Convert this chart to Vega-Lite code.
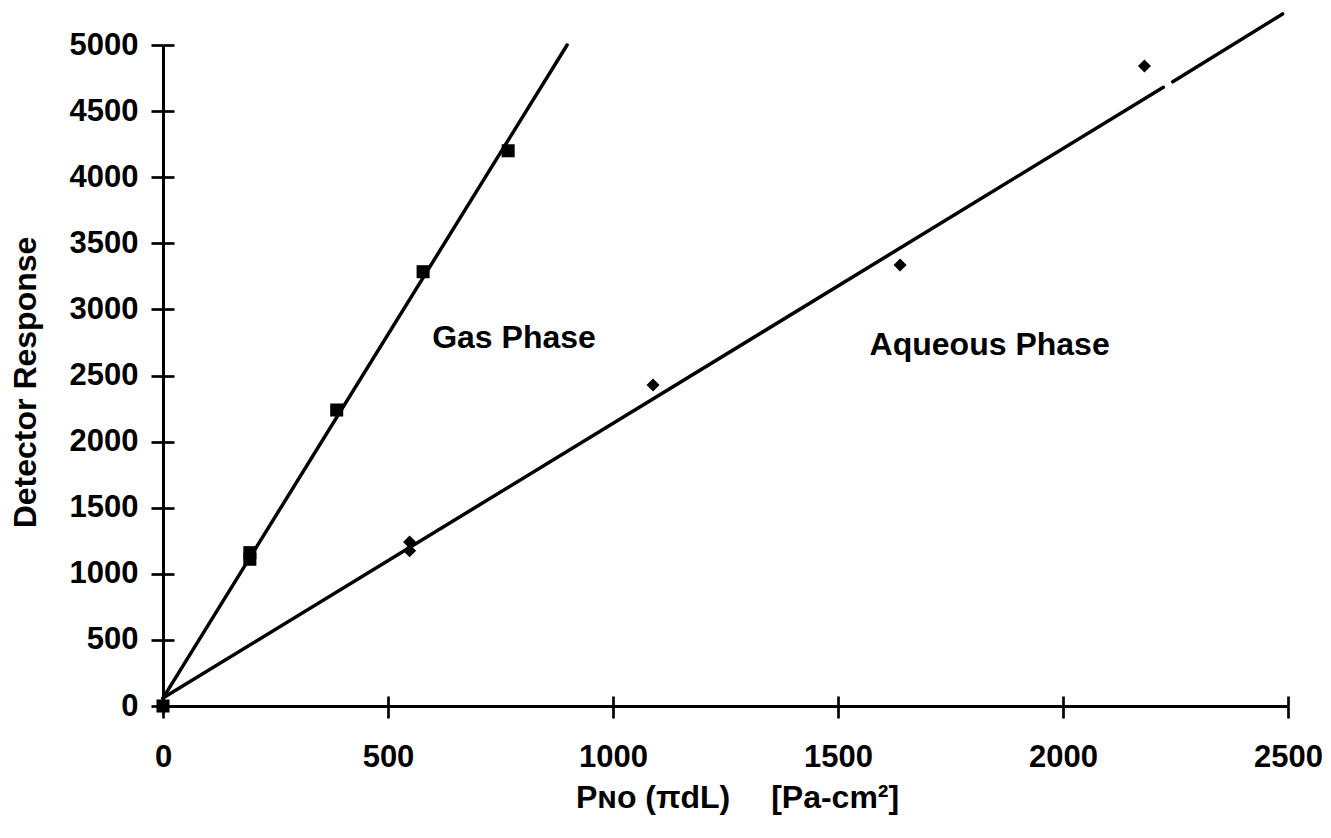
{
  "$schema": "https://vega.github.io/schema/vega-lite/v6.json",
  "width": 1125,
  "height": 661,
  "autosize": {"type": "none"},
  "padding": {"left": 163, "top": 45, "right": 43, "bottom": 132},
  "background": "white",
  "config": {
    "view": {"stroke": null},
    "font": "Liberation Sans",
    "axis": {
      "grid": false,
      "domainColor": "black",
      "tickColor": "black",
      "labelColor": "black",
      "titleColor": "black",
      "labelFont": "Liberation Sans",
      "labelFontWeight": "bold",
      "labelFontSize": 31,
      "titleFont": "Liberation Sans",
      "titleFontWeight": "bold",
      "titleFontSize": 32,
      "domainWidth": 3,
      "tickWidth": 2.7,
      "labelFlush": false,
      "labelOverlap": false,
      "format": "d"
    }
  },
  "datasets": {
    "points": [
      {"series": "Gas Phase", "x": 0, "y": 0},
      {"series": "Gas Phase", "x": 193, "y": 1110},
      {"series": "Gas Phase", "x": 193, "y": 1160},
      {"series": "Gas Phase", "x": 386, "y": 2239},
      {"series": "Gas Phase", "x": 578, "y": 3285},
      {"series": "Gas Phase", "x": 767, "y": 4200},
      {"series": "Aqueous Phase", "x": 0, "y": 0},
      {"series": "Aqueous Phase", "x": 548, "y": 1175},
      {"series": "Aqueous Phase", "x": 548, "y": 1240},
      {"series": "Aqueous Phase", "x": 1089, "y": 2428},
      {"series": "Aqueous Phase", "x": 1638, "y": 3336},
      {"series": "Aqueous Phase", "x": 2181, "y": 4841}
    ],
    "fits": [
      {"segment": "gas", "x": 0, "y": 60},
      {"segment": "gas", "x": 898, "y": 5000},
      {"segment": "aq1", "x": 0, "y": 60},
      {"segment": "aq1", "x": 2223, "y": 4680},
      {"segment": "aq2", "x": 2244, "y": 4722},
      {"segment": "aq2", "x": 2488, "y": 5235}
    ],
    "labels": [
      {"label": "Gas Phase", "x": 780, "y": 2708},
      {"label": "Aqueous Phase", "x": 1837, "y": 2655}
    ]
  },
  "layer": [
    {
      "data": {"name": "fits"},
      "mark": {"type": "line", "color": "black", "strokeWidth": 3.5, "clip": false, "strokeCap": "round"},
      "encoding": {
        "x": {
          "field": "x", "type": "quantitative",
          "scale": {"domain": [0, 2500], "nice": false, "zero": false},
          "axis": {"orient": "bottom", "values": [0, 500, 1000, 1500, 2000, 2500], "tickSize": -10, "domain": false, "labels": false, "title": null}
        },
        "y": {
          "field": "y", "type": "quantitative",
          "scale": {"domain": [0, 5000], "nice": false, "zero": false},
          "axis": {"orient": "left", "values": [0, 500, 1000, 1500, 2000, 2500, 3000, 3500, 4000, 4500, 5000], "tickSize": -11, "domain": false, "labels": false, "title": null}
        },
        "detail": {"field": "segment", "type": "nominal"}
      }
    },
    {
      "data": {"name": "points"},
      "mark": {"type": "point", "filled": true, "color": "black", "opacity": 1, "size": 170},
      "encoding": {
        "x": {
          "field": "x", "type": "quantitative",
          "scale": {"domain": [0, 2500], "nice": false, "zero": false},
          "axis": {
            "orient": "bottom",
            "values": [0, 500, 1000, 1500, 2000, 2500],
            "tickSize": 12,
            "labelPadding": 24,
            "title": "Pɴᴏ (πdL)\u2003 [Pa-cm²]",
            "titleX": 574,
            "titleY": 101,
            "titleBaseline": "alphabetic",
            "titleAlign": "center"
          }
        },
        "y": {
          "field": "y", "type": "quantitative",
          "scale": {"domain": [0, 5000], "nice": false, "zero": false},
          "axis": {
            "orient": "left",
            "values": [0, 500, 1000, 1500, 2000, 2500, 3000, 3500, 4000, 4500, 5000],
            "tickSize": 12,
            "labelPadding": 13,
            "title": "Detector Response",
            "titleX": -128,
            "titleY": 337,
            "titleAngle": -90,
            "titleBaseline": "alphabetic",
            "titleAlign": "center"
          }
        },
        "shape": {
          "field": "series", "type": "nominal",
          "scale": {"domain": ["Gas Phase", "Aqueous Phase"], "range": ["square", "diamond"]},
          "legend": null
        }
      }
    },
    {
      "data": {"name": "labels"},
      "mark": {"type": "text", "font": "Liberation Sans", "fontWeight": "bold", "fontSize": 32, "align": "center", "baseline": "alphabetic", "color": "black"},
      "encoding": {
        "x": {"field": "x", "type": "quantitative", "scale": {"domain": [0, 2500], "nice": false, "zero": false}, "axis": null},
        "y": {"field": "y", "type": "quantitative", "scale": {"domain": [0, 5000], "nice": false, "zero": false}, "axis": null},
        "text": {"field": "label", "type": "nominal"}
      }
    }
  ],
  "resolve": {"axis": {"x": "independent", "y": "independent"}}
}
